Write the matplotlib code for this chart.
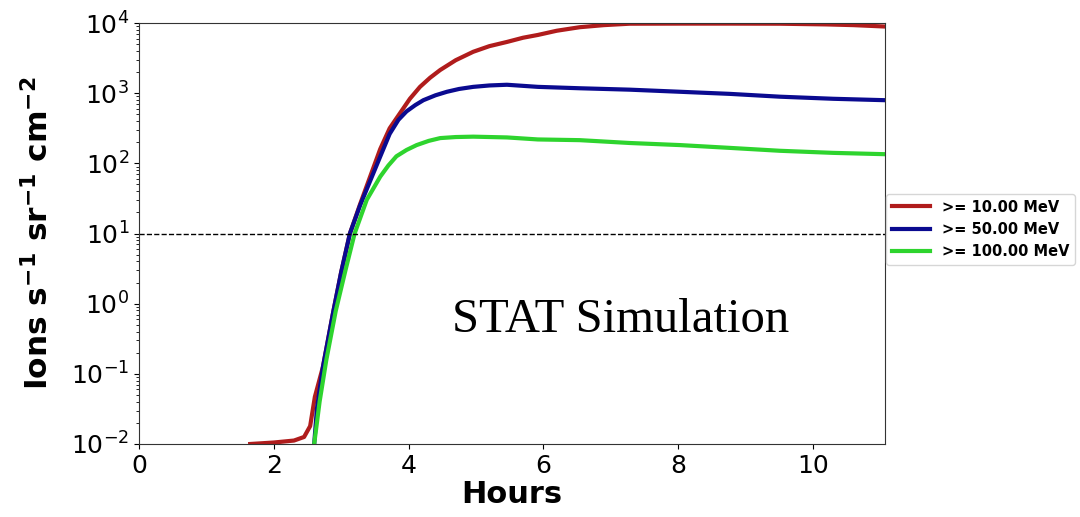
import numpy as np
import matplotlib.pyplot as plt

# hours and flux (ions s^-1 sr^-1 cm^-2)
t_10 = [1.65, 2.0, 2.3, 2.45, 2.54, 2.61, 2.73, 2.88, 3.0, 3.13, 3.28, 3.43,
        3.58, 3.72, 3.87, 4.02, 4.17, 4.32, 4.47, 4.7, 4.96, 5.2, 5.46, 5.7,
        5.92, 6.2, 6.54, 6.9, 7.28, 8.03, 8.77, 9.51, 10.2, 10.6, 11.07]
f_10 = [1.0e-2, 1.05e-2, 1.12e-2, 1.26e-2, 1.8e-2, 4.7e-2, 0.126, 0.74, 2.8,
        10.0, 26.0, 64.6, 160.0, 316.0, 513.0, 832.0, 1230.0, 1660.0, 2140.0,
        2950.0, 3890.0, 4680.0, 5370.0, 6170.0, 6760.0, 7760.0, 8710.0,
        9330.0, 9770.0, 9800.0, 9800.0, 9770.0, 9550.0, 9330.0, 8910.0]

t_50 = [2.6, 2.64, 2.73, 2.88, 3.0, 3.13, 3.28, 3.43, 3.58, 3.72, 3.85, 3.97,
        4.1, 4.22, 4.4, 4.57, 4.75, 4.96, 5.2, 5.46, 5.92, 6.54, 7.28, 8.03,
        8.77, 9.51, 10.3, 11.07]
f_50 = [1.0e-2, 3.16e-2, 0.126, 0.74, 2.8, 10.0, 25.0, 56.0, 125.0, 263.0,
        417.0, 550.0, 676.0, 794.0, 933.0, 1047.0, 1148.0, 1230.0, 1288.0,
        1318.0, 1230.0, 1175.0, 1122.0, 1047.0, 977.0, 891.0, 832.0, 794.0]

t_100 = [2.6, 2.68, 2.78, 2.92, 3.07, 3.2, 3.38, 3.58, 3.7, 3.82, 3.97, 4.12,
         4.3, 4.47, 4.7, 4.96, 5.46, 5.92, 6.54, 7.28, 8.03, 8.77, 9.51, 10.3,
         11.07]
f_100 = [1.0e-2, 4.0e-2, 0.158, 0.79, 3.16, 10.0, 30.2, 64.6, 93.0, 126.0,
         155.0, 182.0, 209.0, 229.0, 237.0, 240.0, 234.0, 219.0, 214.0, 195.0,
         182.0, 166.0, 151.0, 141.0, 135.0]

fig = plt.figure(figsize=(10.8, 5.17), dpi=100)
ax = fig.add_axes([0.1287, 0.1412, 0.6907, 0.8143])

ax.plot(t_10, f_10, color='#b01c1c', lw=3, label='>= 10.00 MeV')
ax.plot(t_50, f_50, color='#0a0a90', lw=3, label='>= 50.00 MeV')
ax.plot(t_100, f_100, color='#2ed42e', lw=3, label='>= 100.00 MeV')
ax.axhline(10, color='black', lw=1, ls='--')

ax.set_yscale('log')
ax.set_ylim(1e-2, 1e4)
ax.set_xlim(0, 11.07)
ax.set_xticks([0, 2, 4, 6, 8, 10])
ax.tick_params(labelsize=18)
ax.set_xlabel('Hours', fontsize=22, fontweight='bold', labelpad=2)
ax.set_ylabel(r'Ions s$^{\mathbf{-1}}$ sr$^{\mathbf{-1}}$ cm$^{\mathbf{-2}}$',
              fontsize=22.5, fontweight='bold', labelpad=12)
for s in ax.spines.values():
    s.set_color('#333333')

ax.text(0.645, 0.266, 'STAT Simulation', transform=ax.transAxes,
        fontsize=35, family='Liberation Serif', ha='center', va='baseline')

ax.legend(loc='center left', bbox_to_anchor=(1.0, 0.51),
          prop={'size': 10.5, 'weight': 'bold'}, handlelength=2.6,
          borderaxespad=0.1)

fig.savefig('out.png')
